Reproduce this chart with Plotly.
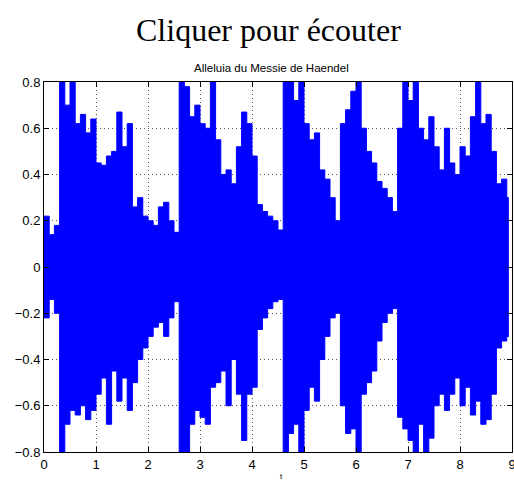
import plotly.graph_objects as go

t = [round(i * 0.1, 1) for i in range(90)] + [8.94]
upper = [0.22, 0.14, 0.18, 0.85, 0.70, 0.85, 0.62, 0.66, 0.58, 0.64,
         0.45, 0.44, 0.48, 0.50, 0.67, 0.52, 0.62, 0.26, 0.30, 0.22,
         0.20, 0.18, 0.26, 0.28, 0.20, 0.15, 0.85, 0.78, 0.65, 0.70,
         0.62, 0.60, 0.85, 0.55, 0.40, 0.42, 0.36, 0.52, 0.67, 0.62,
         0.48, 0.27, 0.24, 0.22, 0.20, 0.16, 0.85, 0.85, 0.72, 0.85,
         0.62, 0.55, 0.58, 0.42, 0.38, 0.30, 0.20, 0.62, 0.68, 0.76,
         0.85, 0.60, 0.50, 0.45, 0.37, 0.34, 0.30, 0.24, 0.60, 0.85,
         0.72, 0.85, 0.60, 0.55, 0.65, 0.52, 0.42, 0.60, 0.45, 0.40,
         0.52, 0.48, 0.65, 0.85, 0.62, 0.66, 0.50, 0.36, 0.38, 0.30, 0.30]
lower = [-0.22, -0.14, -0.20, -0.85, -0.68, -0.62, -0.64, -0.60, -0.66, -0.62,
         -0.55, -0.48, -0.68, -0.45, -0.58, -0.48, -0.62, -0.50, -0.40, -0.35,
         -0.30, -0.26, -0.24, -0.30, -0.22, -0.15, -0.85, -0.85, -0.68, -0.62,
         -0.65, -0.68, -0.52, -0.50, -0.45, -0.60, -0.40, -0.55, -0.75, -0.55,
         -0.52, -0.27, -0.22, -0.18, -0.15, -0.14, -0.85, -0.72, -0.68, -0.85,
         -0.62, -0.52, -0.58, -0.40, -0.30, -0.22, -0.20, -0.60, -0.72, -0.70,
         -0.85, -0.55, -0.50, -0.45, -0.32, -0.24, -0.20, -0.18, -0.65, -0.70,
         -0.75, -0.85, -0.68, -0.85, -0.74, -0.60, -0.55, -0.62, -0.55, -0.48,
         -0.60, -0.52, -0.64, -0.58, -0.68, -0.66, -0.55, -0.35, -0.32, -0.30, -0.30]

xticks = [0, 1, 2, 3, 4, 5, 6, 7, 8, 9]
yticks = [-0.8, -0.6, -0.4, -0.2, 0, 0.2, 0.4, 0.6, 0.8]
yticklabels = ["\u22120.8", "\u22120.6", "\u22120.4", "\u22120.2", "0", "0.2", "0.4", "0.6", "0.8"]

BLUE = "#0000ff"

fig = go.Figure()
fig.add_trace(go.Scatter(
    x=t, y=lower, mode="lines", line=dict(color=BLUE, width=1, shape="hv"),
    hoverinfo="skip", showlegend=False))
fig.add_trace(go.Scatter(
    x=t, y=upper, mode="lines", line=dict(color=BLUE, width=1, shape="hv"),
    fill="tonexty", fillcolor=BLUE, showlegend=False))

axis_common = dict(
    showline=True, linecolor="black", linewidth=1, mirror="ticks",
    ticks="inside", ticklen=5, tickcolor="black",
    showgrid=True, gridcolor="#555555", griddash="1px,3px", gridwidth=1,
    zeroline=False, ticklabeloverflow="allow",
    tickfont=dict(family="Liberation Sans, Arial", size=13, color="black"),
)
fig.update_xaxes(range=[0, 9], tickvals=xticks, ticktext=[str(v) for v in xticks], **axis_common)
fig.update_yaxes(range=[-0.8, 0.8], tickvals=yticks, ticktext=yticklabels, **axis_common)

L, R, T, B, W, H = 44, 2, 82, 32, 514, 484
PW, PH = W - L - R, H - T - B

def px(xp):
    return (xp - L) / PW

def py(yp):
    return (H - B - yp) / PH

fig.update_layout(
    width=W, height=H,
    margin=dict(l=L, r=R, t=T, b=B, autoexpand=False),
    paper_bgcolor="white", plot_bgcolor="white",
    annotations=[
        dict(text="Cliquer pour écouter", x=px(268), y=py(30), xref="x domain", yref="y domain",
             yanchor="middle", showarrow=False,
             font=dict(family="Liberation Serif, Times New Roman", size=32, color="black")),
        dict(text="Alleluia du Messie de Haendel", x=px(271), y=py(68), xref="x domain", yref="y domain",
             yanchor="middle", showarrow=False,
             font=dict(family="Liberation Sans, Arial", size=11.5, color="black")),
        dict(text="t", x=px(281), y=py(476), xref="x domain", yref="y domain",
             yanchor="middle", showarrow=False,
             font=dict(family="Liberation Sans, Arial", size=8, color="black")),
    ],
)

fig.write_html("out.html", config={"displayModeBar": False},
               post_script="document.body.style.margin='0';document.body.style.overflow='hidden';")
